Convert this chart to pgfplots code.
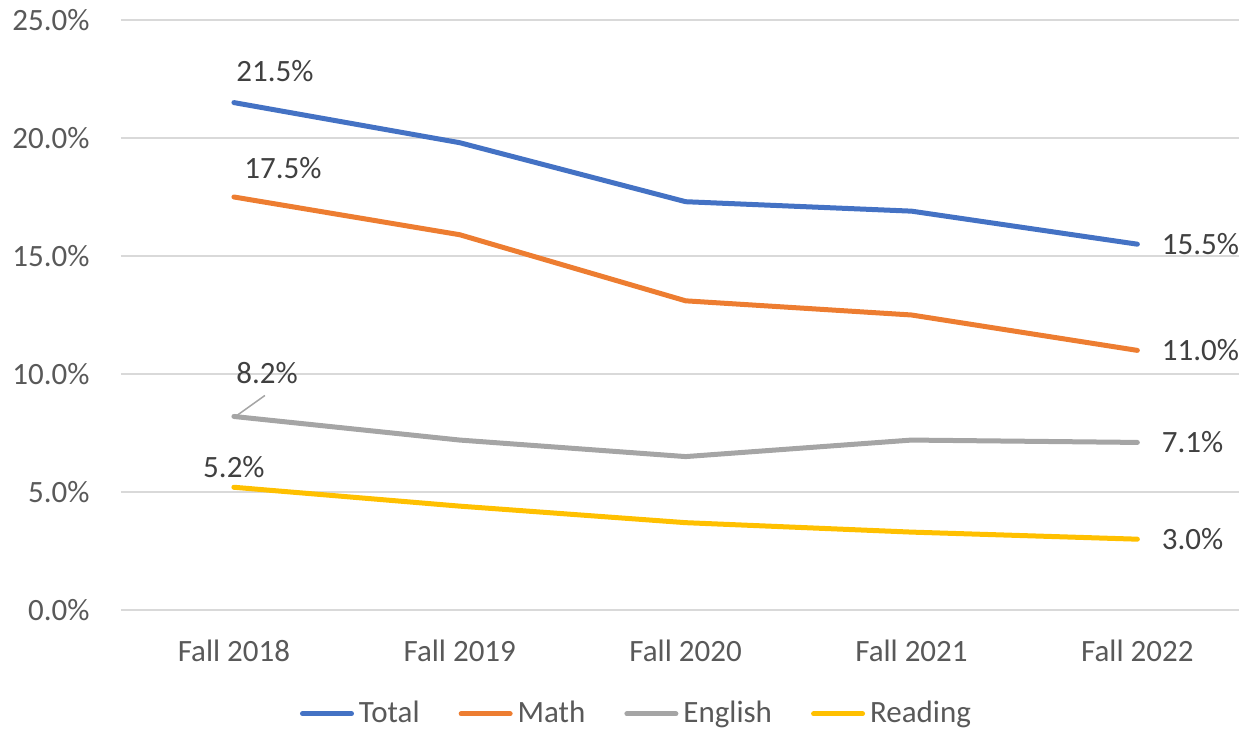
\documentclass[border=0pt]{standalone}
\usepackage{pgfplots}
\pgfplotsset{compat=1.18}
\usepackage{fontspec}
\setmainfont{Carlito}

\definecolor{cTotal}{HTML}{4472C4}
\definecolor{cMath}{HTML}{ED7D31}
\definecolor{cEng}{HTML}{A5A5A5}
\definecolor{cRead}{HTML}{FFC000}
\definecolor{txt}{HTML}{595959}
\definecolor{lbl}{HTML}{404040}
\definecolor{gridc}{HTML}{D9D9D9}

\tikzset{dl/.style={inner sep=0pt, text=lbl}}

\begin{document}
\fontsize{15.5}{18}\selectfont
\begin{tikzpicture}
\useasboundingbox (-60.5pt,-60.5pt) rectangle (559pt,305pt);
\begin{axis}[
  at={(0,0)}, anchor=south west,
  width=559pt, height=295pt, scale only axis,
  xmin=-0.5, xmax=4.45, ymin=0, ymax=25,
  clip=false,
  axis line style={draw=none}, tick style={draw=none},
  ytick={0,5,10,15,20,25},
  yticklabels={0.0\%,5.0\%,10.0\%,15.0\%,20.0\%,25.0\%},
  xtick={0,1,2,3,4},
  xticklabels={Fall 2018,Fall 2019,Fall 2020,Fall 2021,Fall 2022},
  ymajorgrids, major grid style={gridc, line width=0.75pt},
  yticklabel style={anchor=east, inner sep=0pt, xshift=-15.5pt, text=txt},
  xticklabel style={anchor=base, inner sep=0pt, yshift=-26pt, text=txt},
  every axis plot/.append style={line width=2.5pt, line cap=round, line join=round},
  legend columns=4,
  legend style={draw=none, fill=none, at={(0.4606,-0.176)}, anchor=center,
    inner sep=0pt, nodes={inner sep=0.5pt, text=txt},
    /tikz/every odd column/.append style={column sep=2pt},
    /tikz/every even column/.append style={column sep=19pt}},
  legend image code/.code={\draw[#1, line width=2.5pt, line cap=round] (1.25pt,0pt) -- (25.75pt,0pt);},
]
\addplot[cTotal] coordinates {(0,21.5)(1,19.8)(2,17.3)(3,16.9)(4,15.5)}
  node[dl, pos=0, anchor=west, yshift=16pt] {21.5\%}
  node[dl, pos=1, anchor=west, xshift=11pt] {15.5\%};
\addlegendentry{Total}
\addplot[cMath] coordinates {(0,17.5)(1,15.9)(2,13.1)(3,12.5)(4,11.0)}
  node[dl, pos=0, anchor=west, xshift=4pt, yshift=14.5pt] {17.5\%}
  node[dl, pos=1, anchor=west, xshift=11pt] {11.0\%};
\addlegendentry{Math}
\addplot[cEng] coordinates {(0,8.2)(1,7.2)(2,6.5)(3,7.2)(4,7.1)}
  node[dl, pos=0, anchor=west, yshift=21.5pt] {8.2\%}
  node[dl, pos=1, anchor=west, xshift=11pt] {7.1\%};
\addlegendentry{English}
\addplot[cRead] coordinates {(0,5.2)(1,4.4)(2,3.7)(3,3.3)(4,3.0)}
  node[dl, pos=0, anchor=center, yshift=10pt] {5.2\%}
  node[dl, pos=1, anchor=west, xshift=11pt] {3.0\%};
\addlegendentry{Reading}
\draw[cEng, line width=0.75pt] (axis cs:0,8.2) ++(1.5pt,0.5pt) -- ++(14pt,10pt);
\end{axis}
\end{tikzpicture}
\end{document}
